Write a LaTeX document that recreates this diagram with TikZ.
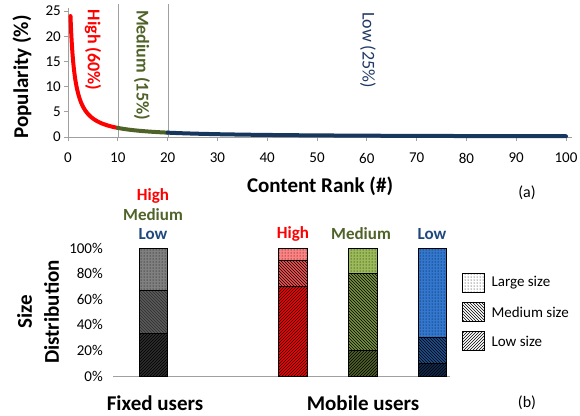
\documentclass[tikz,border=0pt]{standalone}
\usepackage{fontspec}
\setmainfont{Carlito}
\usetikzlibrary{patterns}
\definecolor{hired}{RGB}{255,0,0}
\definecolor{medgreen}{RGB}{79,98,40}
\definecolor{lownavy}{RGB}{23,55,94}
\definecolor{lowtext}{RGB}{31,73,125}
\definecolor{lowtextd}{RGB}{31,56,100}
\definecolor{axgray}{RGB}{160,160,160}
\definecolor{fxA}{RGB}{45,45,45}
\definecolor{fxB}{RGB}{90,90,90}
\definecolor{fxC}{RGB}{128,128,128}
\definecolor{rdA}{RGB}{255,0,0}
\definecolor{rdB}{RGB}{242,80,80}
\definecolor{rdC}{RGB}{255,130,130}
\definecolor{gnA}{RGB}{79,98,40}
\definecolor{gnB}{RGB}{119,147,60}
\definecolor{gnC}{RGB}{155,187,89}
\definecolor{blA}{RGB}{18,42,78}
\definecolor{blB}{RGB}{31,78,140}
\definecolor{blC}{RGB}{50,120,208}
\newcommand\tickf{\fontsize{15}{18}\selectfont}
\newcommand\axf{\fontsize{21}{27}\selectfont\bfseries}
\newcommand\catf{\fontsize{17}{20}\selectfont\bfseries}
\newcommand\szseg[7]{%
  \fill[#5] (#1,{376-1.28*#3}) rectangle (#2,{376-1.28*#4});
  \fill[pattern=#6, pattern color=#7] (#1,{376-1.28*#3}) rectangle (#2,{376-1.28*#4});
  \draw[black, line width=0.8pt] (#1,{376-1.28*#3}) rectangle (#2,{376-1.28*#4});}
\begin{document}
\begin{tikzpicture}[x=1pt,y=-1pt,
  axisline/.style={draw=axgray, line width=0.8pt},
  ticklab/.style={font=\tickf, inner sep=1pt},
  curve/.style={line width=4pt, line cap=round, line join=round}]
\useasboundingbox (0,0) rectangle (580,415);
% ---------- (a) popularity plot ----------
\draw[axisline] (68,137) -- (572,137);
\draw[axisline] (68,8) -- (68,137);
\draw[axisline] (118,4) -- (118,137);
\draw[axisline] (168,4) -- (168,137);
\foreach \v in {0,5,...,25} {
  \draw[axisline] (64,{137-5.04*\v}) -- (68,{137-5.04*\v});
  \node[ticklab, anchor=east] (ty\v) at (62,{137-5.04*\v}) {\v};
}
\foreach \v in {0,10,...,100} {
  \draw[axisline] ({68+4.98*\v},137) -- ({68+4.98*\v},141);
  \node[ticklab] (tx\v) at ({68+4.98*\v},158) {\v};
}
\draw[curve, hired] plot[smooth, domain=1:10.5, samples=80] ({68+4.98*(\x-0.5)},{137-5.04*24*pow(\x,-1.1)});
\draw[curve, medgreen] plot[smooth, domain=10.5:20.5, samples=20] ({68+4.98*(\x-0.5)},{137-5.04*24*pow(\x,-1.1)});
\draw[curve, lownavy] plot[smooth, domain=20.5:100.5, samples=40] ({68+4.98*(\x-0.5)},{137-5.04*24*pow(\x,-1.1)});
\node[rotate=-90, text=hired, font=\fontsize{18}{21}\selectfont\bfseries] (lhigh) at (93,50) {High (60\%)};
\node[rotate=-90, text=medgreen, font=\fontsize{18}{21}\selectfont\bfseries] (lmed) at (142,65) {Medium (15\%)};
\node[rotate=-90, text=lowtextd, font=\fontsize{18}{21}\selectfont] (llow) at (368,50) {Low (25\%)};
\node[rotate=90, font=\axf] (ylab) at (22,77) {Popularity (\%)};
\node[font=\axf] (xlab) at (320,186) {Content Rank (\#)};
\node[font=\fontsize{16}{19}\selectfont] (la) at (527,193) {(a)};
% ---------- (b) size distribution ----------
\draw[axisline] (113,376) -- (450,376);
\foreach \p in {0,20,...,100} {
  \node[ticklab, anchor=east] (tb\p) at (104,{376-1.28*\p}) {\p\%};
}
% fixed users bar
\szseg{139}{167}{0}{33.3}{fxA}{north east lines}{black}
\szseg{139}{167}{33.3}{66.7}{fxB}{north west lines}{fxA}
\szseg{139}{167}{66.7}{100}{fxC}{dots}{black}
% mobile high
\szseg{278}{307}{0}{70}{rdA}{north east lines}{black}
\szseg{278}{307}{70}{90}{rdB}{north west lines}{black}
\szseg{278}{307}{90}{100}{rdC}{dots}{black}
% mobile medium
\szseg{348}{377}{0}{20}{gnA}{north east lines}{black}
\szseg{348}{377}{20}{80}{gnB}{north west lines}{black}
\szseg{348}{377}{80}{100}{gnC}{dots}{black}
% mobile low
\szseg{418}{446}{0}{10}{blA}{north east lines}{black}
\szseg{418}{446}{10}{30}{blB}{north west lines}{black}
\szseg{418}{446}{30}{100}{blC}{dots}{black}
% category labels
\node[font=\catf, text=hired] (fh) at (153,196) {High};
\node[font=\catf, text=medgreen] (fm) at (153,215) {Medium};
\node[font=\catf, text=lowtext] (fl) at (153,234) {Low};
\node[font=\catf, text=hired] (mh) at (293,234) {High};
\node[font=\catf, text=medgreen] (mm) at (361,234) {Medium};
\node[font=\catf, text=lowtext] (ml) at (432,234) {Low};
% axis labels
\node[rotate=90, font=\axf, align=center] (ylab2) at (38,312) {Size\\Distribution};
\node[font=\axf] (fixed) at (155,403) {Fixed users};
\node[font=\axf] (mobile) at (363,403) {Mobile users};
\node[font=\fontsize{16}{19}\selectfont] (lb) at (527,403) {(b)};
% legend
\foreach \yy/\pat/\txt [count=\i] in {273/dots/Large size, 302/north west lines/Medium size, 331/north east lines/Low size} {
  \fill[white] (462,\yy) rectangle (484,\yy+19);
  \fill[pattern=\pat, pattern color=black] (462,\yy) rectangle (484,\yy+19);
  \draw[black, line width=0.8pt] (462,\yy) rectangle (484,\yy+19);
  \node[font=\fontsize{15}{18}\selectfont, anchor=west] (leg\i) at (488,\yy+10) {\txt};
}
\end{tikzpicture}
\end{document}
